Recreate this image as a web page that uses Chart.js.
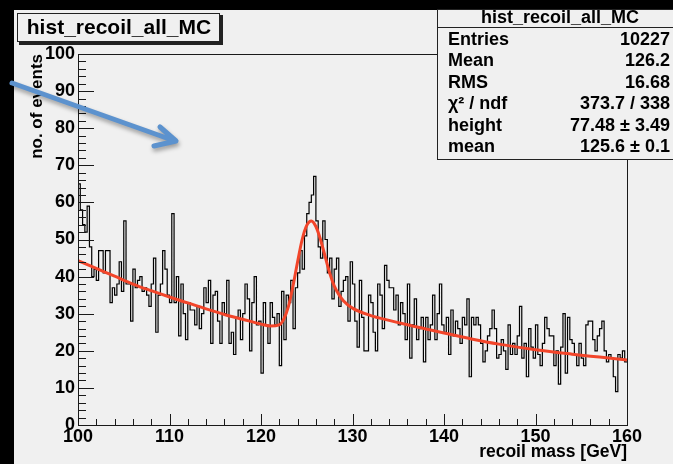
<!DOCTYPE html>
<html>
<head>
<meta charset="utf-8">
<script src="https://cdn.jsdelivr.net/npm/chart.js@4"></script>
<style>
html,body{margin:0;padding:0;background:#000;}
canvas{display:block;}
</style>
</head>
<body>
<canvas id="histChart" width="673" height="464"></canvas>
<script>
// recoil mass histogram, 0.25 GeV bins from 100 to 160
const binLow = 100;
const binWidth = 0.25;
const counts = [
  65, 58, 54, 52, 59, 48, 40, 42, 39, 47,
  47, 41, 47, 47, 33, 37, 35, 38, 44, 36,
  55, 38, 38, 28, 42, 37, 39, 40, 36, 37,
  35, 32, 38, 45, 25, 35, 38, 47, 42, 35,
  33, 57, 33, 40, 24, 38, 30, 23, 33, 31,
  31, 27, 32, 26, 30, 37, 33, 39, 22, 35,
  36, 28, 22, 33, 30, 39, 22, 25, 19, 29,
  31, 23, 30, 38, 34, 20, 33, 40, 27, 28,
  14, 33, 27, 22, 33, 29, 27, 30, 16, 36,
  23, 35, 33, 39, 26, 37, 41, 47, 42, 51,
  57, 60, 62, 67, 55, 48, 45, 55, 50, 41,
  45, 34, 42, 45, 32, 36, 39, 40, 28, 44,
  38, 28, 21, 39, 29, 20, 20, 35, 33, 25,
  20, 38, 35, 26, 43, 39, 37, 37, 31, 35,
  27, 33, 30, 23, 38, 18, 27, 34, 23, 26,
  29, 17, 29, 23, 27, 35, 23, 30, 38, 27,
  25, 29, 19, 31, 24, 28, 26, 22, 29, 27,
  34, 13, 29, 27, 29, 27, 22, 17, 20, 24,
  26, 31, 26, 18, 19, 23, 20, 15, 27, 19,
  22, 19, 24, 32, 18, 22, 13, 26, 21, 18,
  27, 19, 16, 22, 29, 26, 24, 24, 16, 20,
  11, 21, 30, 14, 29, 23, 22, 19, 16, 22,
  18, 16, 27, 28, 28, 23, 20, 24, 26, 28,
  20, 17, 19, 18, 13, 9, 19, 18, 20, 17
];

// fitted curve
const fitMass  = [100, 102, 104, 106, 108, 110, 112, 114, 116, 118, 120, 121, 122, 122.5, 123, 123.5, 124, 124.5, 125, 125.5, 126, 126.5, 127, 127.5, 128, 128.5, 129, 130, 132, 134, 136, 138, 140, 143, 146, 150, 154, 157, 160];
const fitValue = [44.3, 42.2, 40.1, 38.0, 36.2, 34.5, 32.9, 31.3, 29.8, 28.5, 27.2, 26.7, 27.0, 28.6, 32.0, 37.5, 44.0, 50.0, 53.8, 55.0, 53.5, 50.0, 45.5, 41.0, 37.5, 35.2, 33.5, 31.5, 29.5, 28.2, 27.0, 25.9, 24.8, 23.2, 21.8, 20.3, 19.1, 18.3, 17.5];

const histTitle = "hist_recoil_all_MC";
const statNames  = ["Entries", "Mean", "RMS", "\u03c7\u00b2 / ndf", "height", "mean"];
const statValues = ["10227", "126.2", "16.68", "373.7 / 338", "77.48 \u00b1 3.49", "125.6 \u00b1 0.1"];

const xMin = 100, xMax = 160, yMin = 0, yMax = 100;

const FONT = '"Liberation Sans", Arial, Helvetica, sans-serif';

let histPoints = counts.map((c, i) => ({x: binLow + i * binWidth, y: c}));
histPoints.push({x: binLow + counts.length * binWidth, y: counts[counts.length - 1]});

let fitPoints = fitMass.map((m, i) => ({x: m, y: fitValue[i]}));

const rootStyle = {
  id: "rootStyle",
  beforeDraw(chart) {
    const ctx = chart.ctx;
    ctx.save();
    ctx.fillStyle = "#000";
    ctx.fillRect(0, 0, chart.width, chart.height);
    ctx.fillStyle = "#f0f0f0";
    ctx.fillRect(14, 10, chart.width - 14, chart.height - 10);
    ctx.restore();
  },
  afterDatasetsDraw(chart) {
    const ctx = chart.ctx;
    const a = chart.chartArea;
    const x = chart.scales.x, y = chart.scales.y;
    ctx.save();
    ctx.strokeStyle = "#1a1a1a";
    ctx.lineWidth = 1;
    ctx.strokeRect(Math.round(a.left) + 0.5, Math.round(a.top) + 0.5, Math.round(a.right - a.left), Math.round(a.bottom - a.top));
    ctx.beginPath();
    for (let v = yMin; v <= yMax; v += 2) {
      const py = Math.round(y.getPixelForValue(v)) + 0.5;
      const len = v % 10 === 0 ? 16 : 8;
      ctx.moveTo(a.left, py);
      ctx.lineTo(a.left + len, py);
    }
    for (let v = xMin; v <= xMax; v += 2) {
      const px = Math.round(x.getPixelForValue(v)) + 0.5;
      const len = v % 10 === 0 ? 11 : 6;
      ctx.moveTo(px, a.bottom);
      ctx.lineTo(px, a.bottom - len);
    }
    ctx.stroke();
    ctx.restore();
  },
  afterDraw(chart) {
    const ctx = chart.ctx;
    ctx.save();

    // title box
    ctx.fillStyle = "#222";
    ctx.fillRect(19, 15, 204, 30);
    ctx.fillStyle = "#f0f0f0";
    ctx.fillRect(17, 13, 203, 29);
    ctx.strokeStyle = "#222";
    ctx.lineWidth = 1;
    ctx.strokeRect(17.5, 13.5, 202, 28);
    ctx.fillStyle = "#000";
    ctx.font = "bold 21px " + FONT;
    ctx.textAlign = "center";
    ctx.textBaseline = "middle";
    ctx.fillText(histTitle, 119, 28);

    // stats box
    ctx.fillStyle = "#f0f0f0";
    ctx.fillRect(437, 9, 240, 151);
    ctx.strokeRect(437.5, 9.5, 240, 150);
    ctx.beginPath();
    ctx.moveTo(437, 27.5);
    ctx.lineTo(673, 27.5);
    ctx.stroke();
    ctx.fillStyle = "#000";
    ctx.font = "bold 18px " + FONT;
    ctx.fillText(histTitle, 560, 18);
    for (let i = 0; i < statNames.length; i++) {
      const cy = 40 + i * 21.4;
      ctx.textAlign = "left";
      ctx.fillText(statNames[i], 448, cy);
      ctx.textAlign = "right";
      ctx.fillText(statValues[i], 670, cy);
    }

    // blue arrow
    ctx.strokeStyle = "rgb(92,146,206)";
    ctx.lineWidth = 5;
    ctx.lineCap = "round";
    ctx.lineJoin = "round";
    ctx.shadowColor = "rgba(0,0,0,0.35)";
    ctx.shadowBlur = 4;
    ctx.shadowOffsetX = 1;
    ctx.shadowOffsetY = 3;
    ctx.beginPath();
    ctx.moveTo(12, 83);
    ctx.lineTo(175, 141);
    ctx.moveTo(160, 127);
    ctx.lineTo(176, 141);
    ctx.lineTo(154, 146);
    ctx.stroke();
    ctx.restore();
  }
};

new Chart(document.getElementById("histChart"), {
  type: "line",
  data: {
    datasets: [
      {
        label: "fit",
        data: fitPoints,
        borderColor: "#f2452a",
        borderWidth: 3,
        pointRadius: 0,
        cubicInterpolationMode: "monotone",
        fill: false
      },
      {
        label: histTitle,
        data: histPoints,
        borderColor: "#000",
        borderWidth: 1.2,
        pointRadius: 0,
        stepped: "before",
        fill: false
      }
    ]
  },
  plugins: [rootStyle],
  options: {
    responsive: false,
    animation: false,
    events: [],
    layout: {padding: {left: 14, top: 54, right: 46, bottom: 0}},
    plugins: {legend: {display: false}, tooltip: {enabled: false}},
    scales: {
      x: {
        type: "linear",
        min: xMin,
        max: xMax,
        afterFit(s) { s.height = 39; },
        grid: {display: false, drawTicks: false},
        border: {display: false},
        ticks: {stepSize: 10, color: "#000", padding: 1, maxRotation: 0, font: {family: FONT, size: 18, weight: "bold"}},
        title: {display: true, text: "recoil mass [GeV]", align: "end", color: "#000", padding: {top: 0, bottom: 1}, font: {family: FONT, size: 17.5, weight: "bold"}}
      },
      y: {
        min: yMin,
        max: yMax,
        afterFit(s) { s.width = 64; },
        grid: {display: false, drawTicks: false},
        border: {display: false},
        ticks: {stepSize: 10, color: "#000", padding: 3, font: {family: FONT, size: 18, weight: "bold"}},
        title: {display: true, text: "no. of events", align: "end", color: "#000", padding: {top: 13, bottom: 0}, font: {family: FONT, size: 17, weight: "bold"}}
      }
    }
  }
});
</script>
</body>
</html>
